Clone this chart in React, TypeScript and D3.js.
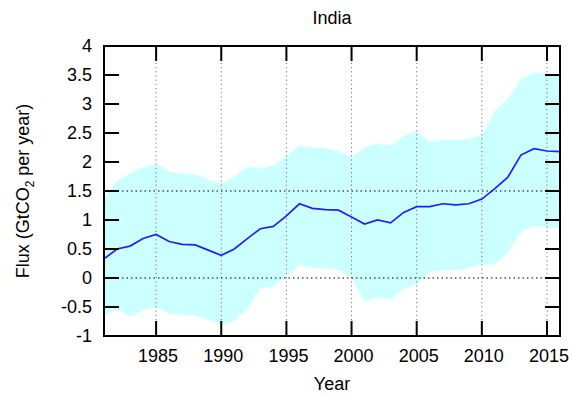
import React from "react";
import * as d3 from "d3";

// Annual flux estimates for India, 1981–2016 (GtCO2 per year)
const years: number[] = [
  1981, 1982, 1983, 1984, 1985, 1986, 1987, 1988, 1989, 1990,
  1991, 1992, 1993, 1994, 1995, 1996, 1997, 1998, 1999, 2000,
  2001, 2002, 2003, 2004, 2005, 2006, 2007, 2008, 2009, 2010,
  2011, 2012, 2013, 2014, 2015, 2016,
];
const meanFlux: number[] = [
  0.33, 0.5, 0.55, 0.68, 0.75, 0.63, 0.58, 0.57, 0.48, 0.39,
  0.5, 0.68, 0.85, 0.89, 1.07, 1.28, 1.2, 1.18, 1.17, 1.05,
  0.93, 1.0, 0.95, 1.13, 1.23, 1.23, 1.28, 1.26, 1.28, 1.36,
  1.54, 1.74, 2.12, 2.23, 2.19, 2.18,
];
const upperFlux: number[] = [
  1.36, 1.68, 1.8, 1.91, 1.97, 1.84, 1.8, 1.79, 1.7, 1.63,
  1.74, 1.92, 1.89, 1.94, 2.1, 2.29, 2.25, 2.24, 2.19, 2.09,
  2.25, 2.32, 2.28, 2.45, 2.53, 2.35, 2.39, 2.38, 2.4, 2.46,
  2.88, 3.08, 3.43, 3.54, 3.53, 3.48,
];
const lowerFlux: number[] = [
  -0.65, -0.54, -0.67, -0.56, -0.5, -0.61, -0.64, -0.65, -0.72, -0.81,
  -0.74, -0.53, -0.18, -0.15, 0.03, 0.22, 0.18, 0.16, 0.14, 0.01,
  -0.4, -0.33, -0.37, -0.19, -0.11, 0.1, 0.14, 0.13, 0.17, 0.23,
  0.24, 0.44, 0.79, 0.9, 0.87, 0.86,
];
const xTicks: number[] = [1985, 1990, 1995, 2000, 2005, 2010, 2015];
const yTicks: number[] = [-1, -0.5, 0, 0.5, 1, 1.5, 2, 2.5, 3, 3.5, 4];
const yGrid: number[] = [0, 1.5];

const W = 573;
const H = 396;
const left = 104;
const right = 560;
const top = 46;
const bottom = 336;
const font = "'Liberation Sans', Arial, Helvetica, sans-serif";
const fs = 18;

export default function App() {
  const x = d3.scaleLinear().domain([1981, 2016]).range([left, right]);
  const y = d3.scaleLinear().domain([-1, 4]).range([bottom, top]);

  const rows = years.map((yr, i) => ({
    yr,
    mean: meanFlux[i],
    lo: lowerFlux[i],
    hi: upperFlux[i],
  }));

  const band = d3
    .area<(typeof rows)[number]>()
    .x((d) => x(d.yr))
    .y0((d) => y(d.lo))
    .y1((d) => y(d.hi))(rows);

  const line = d3
    .line<(typeof rows)[number]>()
    .x((d) => x(d.yr))
    .y((d) => y(d.mean))(rows);

  const tickLen = 15;

  return (
    <svg
      width={W}
      height={H}
      style={{ position: "absolute", left: 0, top: 0, background: "#fff" }}
      fontFamily={font}
    >
      <defs>
        <clipPath id="plot-clip">
          <rect x={left} y={top} width={right - left} height={bottom - top} />
        </clipPath>
      </defs>

      <text x={(left + right) / 2} y={24} textAnchor="middle" fontSize={fs} fill="#000">
        India
      </text>

      <path d={band ?? ""} fill="#ccffff" clipPath="url(#plot-clip)" />

      {xTicks.map((t) => (
        <line
          key={`vg${t}`}
          x1={x(t)}
          x2={x(t)}
          y1={top}
          y2={bottom}
          stroke="#777"
          strokeWidth={1}
          strokeDasharray="1.2,3"
        />
      ))}
      {yGrid.map((t) => (
        <line
          key={`hg${t}`}
          x1={left}
          x2={right}
          y1={y(t)}
          y2={y(t)}
          stroke="#000"
          strokeWidth={1}
          strokeDasharray="1.5,3"
        />
      ))}

      <path
        d={line ?? ""}
        fill="none"
        stroke="#1f1fff"
        strokeWidth={1.7}
        clipPath="url(#plot-clip)"
      />

      {yTicks.map((t) => (
        <g key={`yt${t}`}>
          <line x1={left} x2={left + tickLen} y1={y(t)} y2={y(t)} stroke="#000" strokeWidth={2} />
          <line x1={right} x2={right - tickLen} y1={y(t)} y2={y(t)} stroke="#000" strokeWidth={2} />
          <text
            x={left - 12}
            y={y(t)}
            dy="0.36em"
            textAnchor="end"
            fontSize={fs}
            fill="#000"
          >
            {t}
          </text>
        </g>
      ))}
      {xTicks.map((t) => (
        <g key={`xt${t}`}>
          <line x1={x(t)} x2={x(t)} y1={bottom} y2={bottom - tickLen} stroke="#000" strokeWidth={2} />
          <line x1={x(t)} x2={x(t)} y1={top} y2={top + tickLen} stroke="#000" strokeWidth={2} />
          <text x={x(t) + 2} y={362} textAnchor="middle" fontSize={fs} fill="#000">
            {t}
          </text>
        </g>
      ))}

      <rect
        x={left}
        y={top}
        width={right - left}
        height={bottom - top}
        fill="none"
        stroke="#000"
        strokeWidth={2}
      />

      <text x={(left + right) / 2} y={390} textAnchor="middle" fontSize={fs} fill="#000">
        Year
      </text>

      <text
        transform={`translate(29, ${(top + bottom) / 2}) rotate(-90)`}
        textAnchor="middle"
        fontSize={fs}
        fill="#000"
      >
        Flux (GtCO
        <tspan fontSize={12} dy={5}>
          2
        </tspan>
        <tspan dy={-5}> per year)</tspan>
      </text>
    </svg>
  );
}
